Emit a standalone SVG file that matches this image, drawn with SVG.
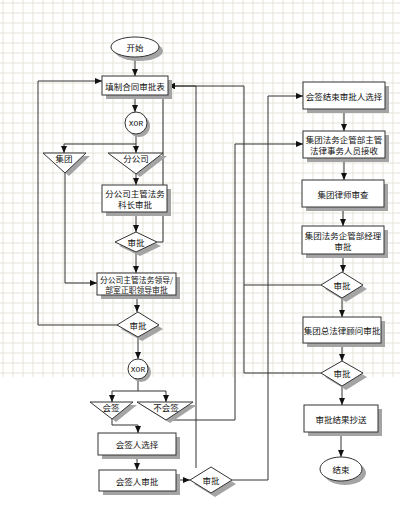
<svg xmlns="http://www.w3.org/2000/svg" width="400" height="508" viewBox="0 0 400 508">
<style>
.bx{fill:#fff;stroke:#333;stroke-width:1}
.sh{fill:#a4a4a4;stroke:none}
.t{font-family:"Noto Sans CJK SC","Noto Sans",sans-serif;font-size:8.5px;fill:#111;text-anchor:middle;dominant-baseline:central}
.s{font-size:7.8px}
.x{font-family:"Liberation Mono",monospace;font-size:8px;fill:#111;text-anchor:middle;dominant-baseline:central}
.c{fill:none;stroke:#333;stroke-width:1}
</style>
<defs>
<pattern id="grid" patternUnits="userSpaceOnUse" x="2.5" y="2.5" width="10" height="10">
<path d="M0,0.5 H10 M0.5,0 V10" fill="none" stroke="#e4e2d6" stroke-width="1"/>
</pattern>
<marker id="a" markerUnits="userSpaceOnUse" markerWidth="8" markerHeight="7" refX="7" refY="3" orient="auto">
<path d="M0,0 L7,3 L0,6 z" fill="#111"/>
</marker>
</defs>
<rect x="0" y="0" width="400" height="508" fill="#fff"/>
<rect x="0" y="0" width="400" height="377" fill="url(#grid)"/>

<g id="connectors" class="c" marker-end="url(#a)">
<path d="M135,57 V76"/>
<path d="M135,95 V112"/>
<path d="M136,134 V144 H64 V153"/>
<path d="M136,144 V153"/>
<path d="M136,174 V185"/>
<path d="M136,212 V232"/>
<path d="M136,252 V273"/>
<path d="M65,173 V283 H97"/>
<path d="M157,242 H163 V86 H160"/>
<path d="M137,295 V312"/>
<path d="M117,325 H38 V81 H102"/>
<path d="M138,337 V359"/>
<path d="M138,379 V391 H112 V402"/>
<path d="M138,391 H166 V402"/>
<path d="M112,419 V425 H138 V433"/>
<path d="M137,455 V470"/>
<path d="M176,480 H190"/>
<path d="M232,480 H268 V96 H303"/>
<path d="M196,468 V86 H168"/>
<path d="M166,420 H235 V144 H303"/>
<path d="M321,285 H244 V86 H168"/>
<path d="M321,373 H244 V285" marker-end="none"/>
<path d="M344,109 V131"/>
<path d="M344,158 V180"/>
<path d="M343,207 V226"/>
<path d="M343,254 V272"/>
<path d="M342,298 V317"/>
<path d="M342,343 V361"/>
<path d="M342,386 V405"/>
<path d="M341,432 V457"/>
</g>

<g id="start">
<ellipse class="sh" cx="139" cy="51" rx="24" ry="10"/>
<ellipse class="bx" cx="135" cy="47" rx="24" ry="10"/>
<text class="t" x="135" y="47">开始</text>
</g>
<g id="n1">
<rect class="sh" x="106" y="80" width="66" height="19"/>
<rect class="bx" x="102" y="76" width="66" height="19"/>
<text class="t" x="135" y="86">填制合同审批表</text>
</g>
<g id="xor1">
<circle class="sh" cx="139" cy="126" r="11"/>
<circle class="bx" cx="136" cy="123" r="11"/>
<text class="x" x="136" y="123">XOR</text>
</g>
<g id="tri-jituan">
<polygon class="sh" points="47,156 90,156 69,176"/>
<polygon class="bx" points="43,153 86,153 65,173"/>
<text class="t" x="64" y="158">集团</text>
</g>
<g id="tri-fengongsi">
<polygon class="sh" points="112,156 167,156 140,177"/>
<polygon class="bx" points="108,153 163,153 136,174"/>
<text class="t" x="136" y="158">分公司</text>
</g>
<g id="n2">
<rect class="sh" x="106" y="189" width="65" height="27"/>
<rect class="bx" x="102" y="185" width="65" height="27"/>
<text class="t" x="135" y="193">分公司主管法务</text>
<text class="t" x="135" y="204">科长审批</text>
</g>
<g id="d1">
<polygon class="sh" points="119,246 140,236 161,246 140,256"/>
<polygon class="bx" points="115,242 136,232 157,242 136,252"/>
<text class="t" x="136" y="242">审批</text>
</g>
<g id="n3">
<rect class="sh" x="101" y="277" width="79" height="22"/>
<rect class="bx" x="97" y="273" width="79" height="22"/>
<text class="t s" x="136.5" y="279">分公司主管法务领导/</text>
<text class="t s" x="136.5" y="289">部室正职领导审批</text>
</g>
<g id="d2">
<polygon class="sh" points="121,329 142,316 163,329 142,341"/>
<polygon class="bx" points="117,325 138,312 159,325 138,337"/>
<text class="t" x="138" y="325">审批</text>
</g>
<g id="xor2">
<circle class="sh" cx="141" cy="372" r="10"/>
<circle class="bx" cx="138" cy="369" r="10"/>
<text class="x" x="138" y="369">XOR</text>
</g>
<g id="tri-huiqian">
<polygon class="sh" points="94,405 137,405 116,422"/>
<polygon class="bx" points="90,402 133,402 112,419"/>
<text class="t" x="111" y="407">会签</text>
</g>
<g id="tri-buhuiqian">
<polygon class="sh" points="141,405 197,405 170,423"/>
<polygon class="bx" points="137,402 193,402 166,420"/>
<text class="t" x="166" y="407">不会签</text>
</g>
<g id="n4">
<rect class="sh" x="102" y="437" width="78" height="22"/>
<rect class="bx" x="98" y="433" width="78" height="22"/>
<text class="t" x="137" y="444">会签人选择</text>
</g>
<g id="n5">
<rect class="sh" x="103" y="474" width="77" height="21"/>
<rect class="bx" x="99" y="470" width="77" height="21"/>
<text class="t" x="137" y="480.5">会签人审批</text>
</g>
<g id="d3">
<polygon class="sh" points="194,484 215,471 236,484 215,497"/>
<polygon class="bx" points="190,480 211,467 232,480 211,493"/>
<text class="t" x="211" y="480">审批</text>
</g>
<g id="n6">
<rect class="sh" x="307" y="86" width="82" height="27"/>
<rect class="bx" x="303" y="82" width="82" height="27"/>
<text class="t" x="344" y="95.5">会签结束审批人选择</text>
</g>
<g id="n7">
<rect class="sh" x="307" y="135" width="82" height="27"/>
<rect class="bx" x="303" y="131" width="82" height="27"/>
<text class="t" x="344" y="139">集团法务企管部主管</text>
<text class="t" x="344" y="150">法律事务人员接收</text>
</g>
<g id="n8">
<rect class="sh" x="306" y="184" width="82" height="27"/>
<rect class="bx" x="302" y="180" width="82" height="27"/>
<text class="t" x="343" y="193.5">集团律师审查</text>
</g>
<g id="n9">
<rect class="sh" x="306" y="230" width="82" height="28"/>
<rect class="bx" x="302" y="226" width="82" height="28"/>
<text class="t" x="343" y="234.5">集团法务企管部经理</text>
<text class="t" x="343" y="245.5">审批</text>
</g>
<g id="d4">
<polygon class="sh" points="325,289 346,276 367,289 346,302"/>
<polygon class="bx" points="321,285 342,272 363,285 342,298"/>
<text class="t" x="342" y="285">审批</text>
</g>
<g id="n10">
<rect class="sh" x="307" y="321" width="78" height="26"/>
<rect class="bx" x="303" y="317" width="78" height="26"/>
<text class="t" x="342" y="330">集团总法律顾问审批</text>
</g>
<g id="d5">
<polygon class="sh" points="325,377 346,365 367,377 346,390"/>
<polygon class="bx" points="321,373 342,361 363,373 342,386"/>
<text class="t" x="342" y="373">审批</text>
</g>
<g id="n11">
<rect class="sh" x="308" y="409" width="74" height="27"/>
<rect class="bx" x="304" y="405" width="74" height="27"/>
<text class="t" x="341" y="418.5">审批结果抄送</text>
</g>
<g id="end">
<ellipse class="sh" cx="345" cy="473" rx="21" ry="12"/>
<ellipse class="bx" cx="341" cy="469" rx="21" ry="12"/>
<text class="t" x="341" y="469">结束</text>
</g>
</svg>
